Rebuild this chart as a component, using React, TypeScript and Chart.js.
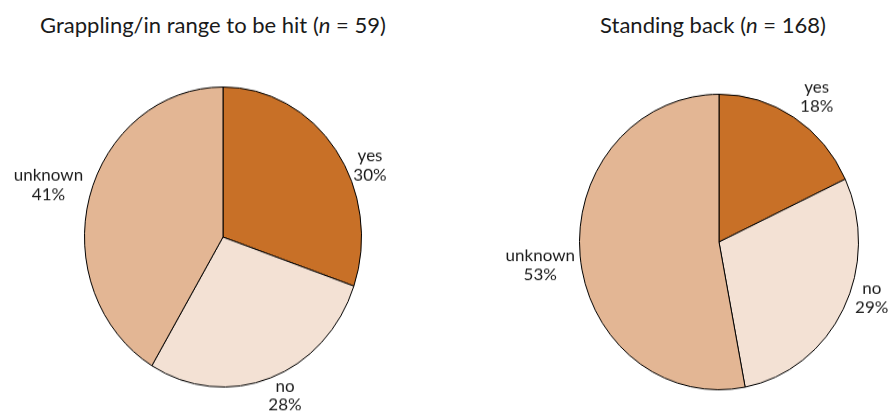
import React, { useEffect, useRef } from "react";
import { Chart, ArcElement, PieController } from "chart.js";

Chart.register(ArcElement, PieController);

// ---- data ----
const categories = ["yes", "no", "unknown"];
const grapplingValues = [30, 28, 41];
const standingValues = [18, 29, 53];
const grapplingTitle = "Grappling/in range to be hit";
const grapplingN = 59;
const standingTitle = "Standing back";
const standingN = 168;

// ---- styles ----
const sliceColors = ["#C87027", "#F3E1D4", "#E3B694"];
const FONT = "Lato, 'Open Sans', sans-serif";
const TEXT_COLOR = "#1a1a1a";

// label placement tweaks per slice: [angle shift in degrees, distance as fraction of radius]
const grapplingLabelPlacement = [
  [8.6, 1.055],
  [2.8, 1.106],
  [3.6, 1.068],
];
const standingLabelPlacement = [
  [-1.8, 1.141],
  [-5.8, 1.046],
  [-3.2, 1.044],
];

const labelPlugin = {
  id: "pieLabels",
  afterDraw(chart: any, _args: any, opts: any) {
    const ctx = chart.ctx;
    const meta = chart.getDatasetMeta(0);
    const ds = chart.data.datasets[0];
    meta.data.forEach((arc: any, i: number) => {
      const { x, y, startAngle, endAngle, outerRadius } = arc.getProps(
        ["x", "y", "startAngle", "endAngle", "outerRadius"],
        true
      );
      const [shiftDeg, dist] = opts.placement[i];
      const mid = (startAngle + endAngle) / 2 + (shiftDeg * Math.PI) / 180;
      const ax = x + Math.cos(mid) * outerRadius * dist;
      const ay = y + Math.sin(mid) * outerRadius * dist;
      const lines = [String(chart.data.labels[i]), `${ds.data[i]}%`];
      ctx.save();
      ctx.font = `${opts.fontSize}px ${FONT}`;
      ctx.fillStyle = TEXT_COLOR;
      const bw = Math.max(...lines.map((l) => ctx.measureText(l).width));
      const left = Math.cos(mid) < 0 ? ax - bw : ax;
      ctx.translate(left + bw / 2, ay);
      ctx.scale(1, 1 / opts.sy);
      ctx.textAlign = "center";
      ctx.textBaseline = "middle";
      lines.forEach((l, k) =>
        ctx.fillText(l, 0, (k - (lines.length - 1) / 2) * opts.lineHeight)
      );
      ctx.restore();
    });
  },
};

type PanelProps = {
  values: number[];
  title: string;
  n: number;
  boxLeft: number;
  boxTop: number;
  boxW: number;
  boxH: number;
  radius: number;
  sy: number;
  placement: number[][];
  titleCenter: number;
};

function PiePanel(p: PanelProps) {
  const ref = useRef<HTMLCanvasElement>(null);
  useEffect(() => {
    if (!ref.current) return;
    const chart = new Chart(ref.current, {
      type: "pie",
      data: {
        labels: categories,
        datasets: [
          {
            data: p.values,
            backgroundColor: sliceColors,
            borderColor: "#000000",
            borderWidth: 1,
          },
        ],
      },
      options: {
        responsive: false,
        animation: false,
        radius: p.radius,
        layout: { padding: 0 },
        events: [],
        plugins: {
          legend: { display: false },
          tooltip: { enabled: false },
          pieLabels: { placement: p.placement, sy: p.sy, fontSize: 17, lineHeight: 19 },
        } as any,
      } as any,
      plugins: [labelPlugin],
    });
    return () => chart.destroy();
  }, []);
  return (
    <>
      <div
        style={{
          position: "absolute",
          left: p.boxLeft,
          top: p.boxTop,
          width: p.boxW,
          height: p.boxH,
          transform: `scaleY(${p.sy})`,
          transformOrigin: "50% 50%",
        }}
      >
        <canvas ref={ref} width={p.boxW} height={p.boxH} />
      </div>
      <div
        style={{
          position: "absolute",
          left: p.titleCenter - 250,
          width: 500,
          top: 8,
          textAlign: "center",
          fontFamily: FONT,
          fontSize: 22,
          color: TEXT_COLOR,
          lineHeight: "34px",
          whiteSpace: "nowrap",
        }}
      >
        {p.title} (<i>n</i> = {p.n})
      </div>
    </>
  );
}

export default function App() {
  return (
    <div
      style={{
        position: "fixed",
        left: 0,
        top: 0,
        width: 891,
        height: 411,
        overflow: "hidden",
        background: "#ffffff",
      }}
    >
      <PiePanel
        values={grapplingValues}
        title={grapplingTitle}
        n={grapplingN}
        boxLeft={0}
        boxTop={57}
        boxW={446}
        boxH={360}
        radius={138.5}
        sy={1.083}
        placement={grapplingLabelPlacement}
        titleCenter={213}
      />
      <PiePanel
        values={standingValues}
        title={standingTitle}
        n={standingN}
        boxLeft={499}
        boxTop={62}
        boxW={440}
        boxH={360}
        radius={139.5}
        sy={1.059}
        placement={standingLabelPlacement}
        titleCenter={713}
      />
    </div>
  );
}
